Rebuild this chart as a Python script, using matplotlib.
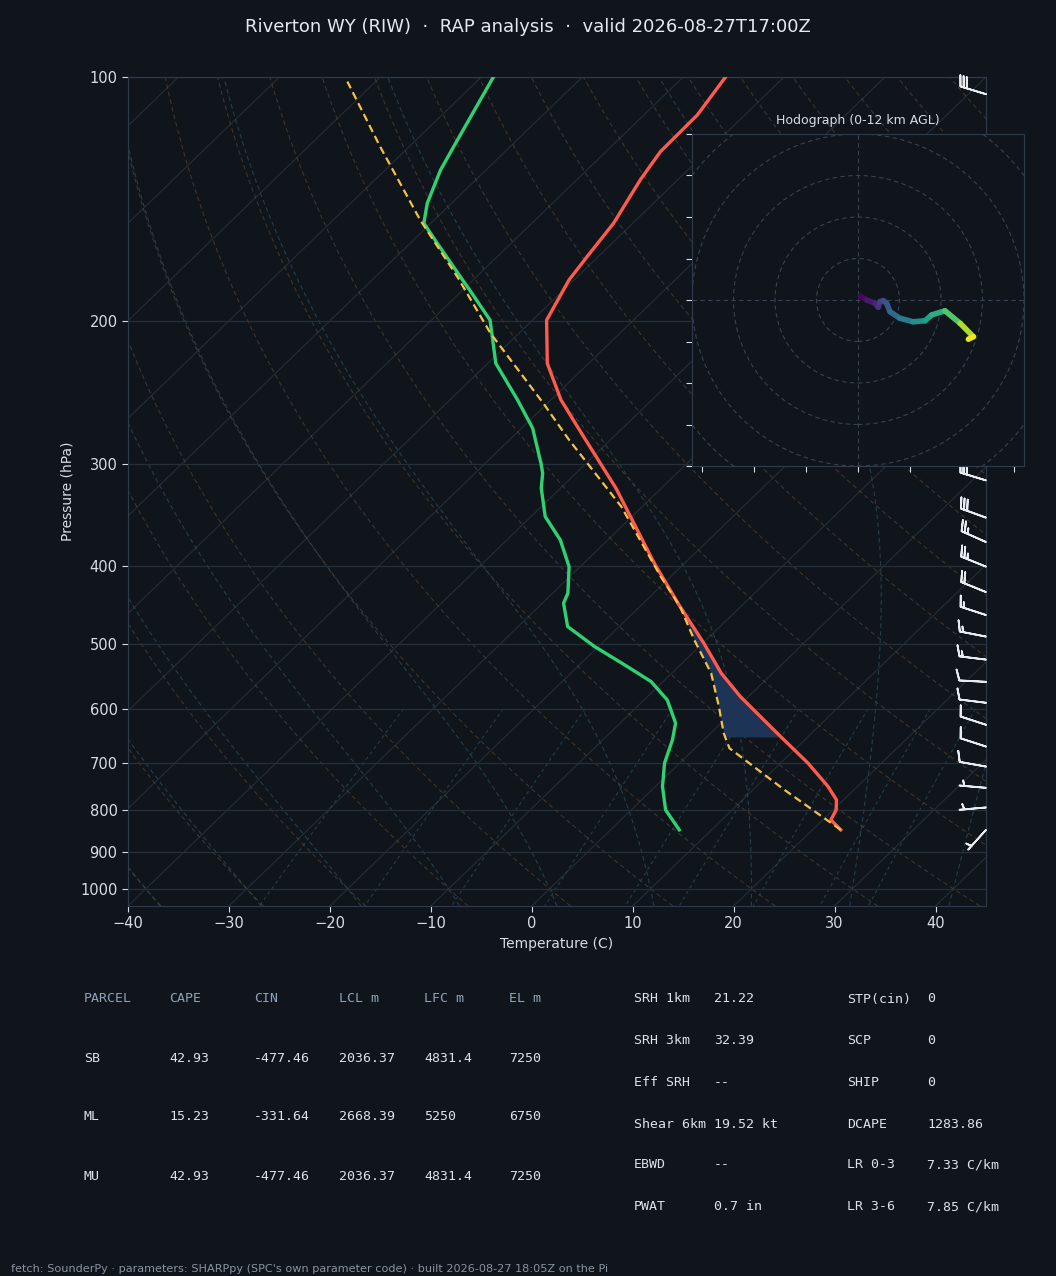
import numpy as np
import matplotlib
matplotlib.use("Agg")
import matplotlib.pyplot as plt
import matplotlib.transforms as mtransforms
from matplotlib.collections import LineCollection

BG = '#10151c'
SPINE = '#2f3b4a'
TXT = '#d8dde3'

# --- sounding values (hPa, degC) ---
pres_t = np.array([846, 822.4, 799.4, 777, 748.2, 700, 643.2, 579.8, 542.5, 498.3,
                   449.2, 397.2, 361.4, 321, 277.3, 249.9, 225.3, 199.3, 177.8,
                   166.4, 151.4, 133.9, 123.6, 111.4, 100])
temp = np.array([22.8, 20.8, 20.3, 19.3, 17.1, 12.7, 6.6, -0.8, -5.1, -9.9,
                 -16.0, -23.0, -28.1, -34.5, -43.0, -49.0, -54.1, -58.6, -60.5,
                 -61.1, -61.9, -63.7, -64.6, -64.7, -65.8])

pres_td = np.array([846, 799.4, 748.2, 700, 655.4, 625.1, 585.3, 555.5, 532.3, 502.9,
                    475.3, 444.8, 432.3, 401.0, 371.8, 347.9, 321, 307.6, 299.0,
                    270.8, 249.9, 225.3, 208.8, 199.3, 186.4, 176.2, 160.3, 151.4,
                    143.1, 130.2, 119.6, 100])
dewpt = np.array([6.8, 3.4, 0.7, -1.5, -3.1, -4.5, -7.7, -11.2, -15.1, -20.4,
                  -25.1, -27.9, -28.5, -31.1, -34.7, -38.6, -41.9, -43.3, -44.5,
                  -48.9, -53.3, -59.2, -62.3, -64.2, -68.2, -71.6, -77.3, -80.7,
                  -82.4, -84.5, -85.9, -88.8])

pres_parcel = np.array([846, 755.1, 671.1, 643.2, 596.5, 542.5, 493.5, 449.2, 412.5,
                        338.1, 279.9, 252.3, 206.9, 176.2, 150, 121.8, 101.3])
t_parcel = np.array([22.8, 13.1, 3.4, 1.3, -1.9, -6.1, -11.2, -16.0, -21.0,
                     -32.1, -44.1, -50.4, -62.8, -71.9, -81.4, -92.9, -102.8])

cin_bottom, cin_top = 650, 449

# wind barbs (hPa, direction deg, speed kt)
barb_p = np.array([105, 314, 349, 374, 401, 431, 460, 489, 522, 556, 590, 628,
                   668, 707, 751, 794, 846])
barb_dir = np.array([287, 287, 290, 294, 292, 292, 288, 281, 277, 273, 277, 288,
                     288, 280, 275, 265, 222])
barb_spd = np.array([30, 30, 30, 25, 25, 20, 15, 15, 15, 10, 10, 10,
                     10, 10, 5, 5, 5])

# hodograph (kt) with height AGL (km)
hodo_u = np.array([1.0, 4.2, 8.2, 9.8, 10.6, 12.2, 13.8, 15.4, 20.2, 26.6, 32.3,
                   35.5, 41.9, 49.2, 55.6, 53.2])
hodo_v = np.array([1.9, 0.0, -1.6, -3.5, -0.8, -0.3, -1.6, -5.6, -8.8, -10.5, -10.0,
                   -7.2, -5.2, -11.2, -17.7, -18.9])
hodo_z = np.array([0, 0.5, 1.0, 1.5, 2.0, 2.5, 3.0, 3.5, 4.5, 5.5, 6.5,
                   7.0, 8.0, 9.5, 11.5, 12.0])

# parameter tables
parcel_cols = ['PARCEL', 'CAPE', 'CIN', 'LCL m', 'LFC m', 'EL m']
parcel_rows = [['SB', '42.93', '-477.46', '2036.37', '4831.4', '7250'],
               ['ML', '15.23', '-331.64', '2668.39', '5250', '6750'],
               ['MU', '42.93', '-477.46', '2036.37', '4831.4', '7250']]
kin_labels = ['SRH 1km', 'SRH 3km', 'Eff SRH', 'Shear 6km', 'EBWD', 'PWAT']
kin_values = ['21.22', '32.39', '--', '19.52 kt', '--', '0.7 in']
comp_labels = ['STP(cin)', 'SCP', 'SHIP', 'DCAPE', 'LR 0-3', 'LR 3-6']
comp_values = ['0', '0', '0', '1283.86', '7.33 C/km', '7.85 C/km']


def moist_rate(T, p):
    es = 6.112 * np.exp(17.67 * (T - 273.15) / (T - 29.65))
    rs = 0.622 * es / (p - es)
    return (287.04 * T + 2.501e6 * rs) / (1005.7 + 2.501e6 ** 2 * rs * 0.622 / (287.04 * T ** 2))


def moist_lapse(t0, p_targets):
    T = np.asarray(t0, float) + 273.15
    p = 1000.0
    out = []
    for pt in p_targets:
        dl = (np.log(pt) - np.log(p)) / 4
        for _ in range(4):
            k1 = moist_rate(T, p)
            pm = p * np.exp(dl / 2)
            k2 = moist_rate(T + k1 * dl / 2, pm)
            k3 = moist_rate(T + k2 * dl / 2, pm)
            p2 = p * np.exp(dl)
            k4 = moist_rate(T + k3 * dl, p2)
            T = T + dl * (k1 + 2 * k2 + 2 * k3 + k4) / 6
            p = p2
        out.append(T.copy())
    return np.array(out) - 273.15


fig = plt.figure(figsize=(10.56, 12.76), dpi=100, facecolor=BG)
W, H = 1056, 1276
ax = fig.add_axes([128 / W, 1 - 906 / H, 858 / W, 829 / H])
ax.set_facecolor(BG)
ax.set_yscale('log')
ax.set_xlim(-40, 45)
ax.set_ylim(1050, 100)
ax.autoscale(False)

skew = ax.transScale + ax.transLimits + mtransforms.Affine2D().skew_deg(45, 0) + ax.transAxes

# background lines
for t in range(-130, 50, 10):
    ax.plot([t, t], [1050, 100], transform=skew, color='#262d36', lw=0.8, zorder=1)

p_bg = np.geomspace(1050, 100, 120)
for t0 in np.arange(-40, 201, 10):
    td = (t0 + 273.15) * (p_bg / 1000) ** 0.2857 - 273.15
    ax.plot(td, p_bg, transform=skew, color='#7a5b38', alpha=0.45, lw=0.8,
            ls=(0, (4, 3)), zorder=1)

m_t0 = np.arange(-40, 41, 10)
p_up = np.geomspace(1000, 100, 100)
p_dn = np.linspace(1000, 1050, 6)[1:]
tm_up = moist_lapse(m_t0, p_up)
tm_dn = moist_lapse(m_t0, p_dn)
p_m = np.concatenate([p_dn[::-1], p_up])
tm = np.vstack([tm_dn[::-1], tm_up])
for i in range(len(m_t0)):
    ax.plot(tm[:, i], p_m, transform=skew, color='#2b4c5a', alpha=0.75, lw=0.8,
            ls=(0, (4, 3)), zorder=1)

p_mix = np.linspace(600, 1050, 30)
for w in [0.0004, 0.001, 0.002, 0.004, 0.007, 0.01, 0.016, 0.024, 0.032]:
    e = p_mix * w / (0.622 + w)
    lg = np.log(e / 6.112)
    tdw = 243.5 * lg / (17.67 - lg)
    ax.plot(tdw, p_mix, transform=skew, color='#2b4c5a', alpha=0.75, lw=0.8,
            ls=(0, (3, 3)), zorder=1)

ax.yaxis.grid(True, which='major', color='#262e38', lw=0.9)
ax.xaxis.grid(False)

# CIN shading
cin_p = np.geomspace(cin_bottom, cin_top, 60)
env_i = np.interp(np.log(cin_p), np.log(pres_t[::-1]), temp[::-1])
par_i = np.interp(np.log(cin_p), np.log(pres_parcel[::-1]), t_parcel[::-1])
ax.fill_betweenx(cin_p, par_i, env_i, where=par_i <= env_i, transform=skew,
                 color='#1e365a', alpha=0.95, lw=0, zorder=2)

# profiles
ax.plot(dewpt, pres_td, transform=skew, color='#2fd172', lw=2.4, zorder=3,
        solid_joinstyle='round')
ax.plot(temp, pres_t, transform=skew, color='#ff5b4d', lw=2.4, zorder=3,
        solid_joinstyle='round')
ax.plot(t_parcel, pres_parcel, transform=skew, color='#f5c244', lw=1.6,
        ls=(0, (3.5, 2)), zorder=4)

# wind barbs at right edge
rad = np.deg2rad(barb_dir)
bu = -barb_spd * np.sin(rad)
bv = -barb_spd * np.cos(rad)
blend = mtransforms.blended_transform_factory(ax.transAxes, ax.transData)
ax.barbs(np.ones(len(barb_p)), barb_p, bu, bv, transform=blend, length=6.2,
         color='#e8ecf0', linewidth=1.3, clip_on=False, zorder=5)

# axes styling
ticks_p = [100, 200, 300, 400, 500, 600, 700, 800, 900, 1000]
ax.set_yticks(ticks_p)
ax.set_yticklabels([str(p) for p in ticks_p])
ax.yaxis.set_minor_locator(matplotlib.ticker.NullLocator())
ax.set_xticks(np.arange(-40, 41, 10))
ax.tick_params(colors=TXT, labelsize=10.5, length=4)
for s in ax.spines.values():
    s.set_color(SPINE)
ax.set_xlabel('Temperature (C)', color=TXT, fontsize=10)
ax.set_ylabel('Pressure (hPa)', color=TXT, fontsize=10)

# hodograph inset
hx = fig.add_axes([692 / W, 1 - 466 / H, 332 / W, 332 / H])
hx.set_facecolor(BG)
hx.set_xlim(-80, 80)
hx.set_ylim(-80, 80)
for r in [20, 40, 60, 80, 100]:
    hx.add_patch(plt.Circle((0, 0), r, fill=False, ec='#38424f', lw=0.8,
                            ls=(0, (4, 3))))
hx.axhline(0, color='#38424f', lw=0.8, ls=(0, (4, 3)))
hx.axvline(0, color='#38424f', lw=0.8, ls=(0, (4, 3)))
pts = np.column_stack([hodo_u, hodo_v]).reshape(-1, 1, 2)
segs = np.concatenate([pts[:-1], pts[1:]], axis=1)
lc = LineCollection(segs, cmap='viridis', norm=plt.Normalize(0, 12), lw=4,
                    capstyle='round', joinstyle='round')
lc.set_array(0.5 * (hodo_z[:-1] + hodo_z[1:]))
hx.add_collection(lc)
hx.set_xticks([-75, -50, -25, 0, 25, 50, 75])
hx.set_yticks(np.arange(-80, 81, 20))
hx.tick_params(colors=TXT, labelleft=False, labelbottom=False, length=4)
for s in hx.spines.values():
    s.set_color(SPINE)
hx.set_title('Hodograph (0-12 km AGL)', color=TXT, fontsize=9, pad=7)

# title
fig.text(0.5, 1 - 27 / H, 'Riverton WY (RIW)  \u00b7  RAP analysis  \u00b7  valid 2026-08-27T17:00Z',
         ha='center', va='center', fontsize=13, color='#e6e9ed')

# parcel table
mono = 'DejaVu Sans Mono'
col_x = [84, 169, 254, 339, 424, 509]
row_y = [999, 1058, 1117, 1176]
for cx, name in zip(col_x, parcel_cols):
    fig.text(cx / W, 1 - row_y[0] / H, name, family=mono, fontsize=9.5,
             color='#8ea2b8', va='center')
for ry, row in zip(row_y[1:], parcel_rows):
    for cx, val in zip(col_x, row):
        fig.text(cx / W, 1 - ry / H, val, family=mono, fontsize=9.5,
                 color='#dde2e8', va='center')

# kinematic / composite table
k_y = [999, 1041, 1083, 1124, 1165, 1207]
for ry, lab, val, lab2, val2 in zip(k_y, kin_labels, kin_values, comp_labels, comp_values):
    fig.text(634 / W, 1 - ry / H, lab, family=mono, fontsize=9.5, color='#dde2e8', va='center')
    fig.text(714 / W, 1 - ry / H, val, family=mono, fontsize=9.5, color='#dde2e8', va='center')
    fig.text(847 / W, 1 - ry / H, lab2, family=mono, fontsize=9.5, color='#dde2e8', va='center')
    fig.text(927 / W, 1 - ry / H, val2, family=mono, fontsize=9.5, color='#dde2e8', va='center')

fig.text(11 / W, 1 - 1269 / H,
         "fetch: SounderPy \u00b7 parameters: SHARPpy (SPC's own parameter code) \u00b7 built 2026-08-27 18:05Z on the Pi",
         fontsize=8.15, color='#8893a0', va='center')

fig.savefig('out.png', dpi=100, facecolor=BG)
